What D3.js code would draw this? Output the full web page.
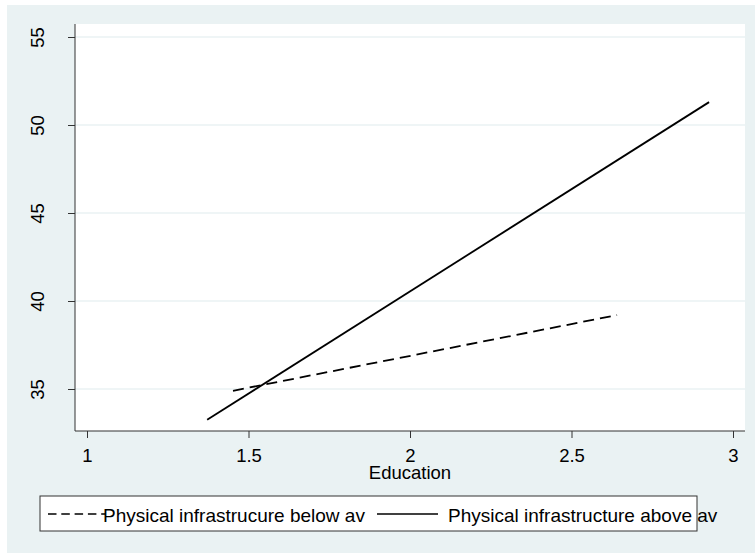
<!DOCTYPE html>
<html>
<head>
<meta charset="utf-8">
<script src="https://cdn.jsdelivr.net/npm/d3@7"></script>
<style>
  body { margin: 0; background: #fff; }
  svg { display: block; font-family: "Liberation Sans", Arial, sans-serif; }
</style>
</head>
<body>
<div id="chart"></div>
<script>
// data (fitted lines, two end points each)
var seriesNames = ["Physical infrastrucure below av", "Physical infrastructure above av"];
var belowEducation = [1.452, 2.641];
var belowValue = [34.9, 39.2];
var aboveEducation = [1.372, 2.926];
var aboveValue = [33.25, 51.3];
var xTicks = [1, 1.5, 2, 2.5, 3];
var yTicks = [35, 40, 45, 50, 55];

var width = 755, height = 553;
var bg = "#eaf2f3";
var fs = 18.5;

var svg = d3.select("#chart").append("svg")
    .attr("width", width)
    .attr("height", height);

// graph region
svg.append("rect")
    .attr("x", 7).attr("y", 5)
    .attr("width", width - 7).attr("height", height - 5)
    .attr("fill", bg);

// plot region
svg.append("rect")
    .attr("x", 75).attr("y", 24)
    .attr("width", 670).attr("height", 407)
    .attr("fill", "#fff");

var x = d3.scaleLinear().domain([1, 3]).range([87, 733]);
var y = d3.scaleLinear().domain([35, 55]).range([389, 37]);

// grid lines
svg.selectAll(".grid")
    .data(yTicks)
    .enter().append("line")
    .attr("class", "grid")
    .attr("x1", 75).attr("x2", 745)
    .attr("y1", function (d) { return y(d); })
    .attr("y2", function (d) { return y(d); })
    .attr("stroke", bg)
    .attr("stroke-width", 1.5);

// y axis
var yAxis = svg.append("g")
    .attr("transform", "translate(75,0)")
    .call(d3.axisLeft(y).tickValues(yTicks).tickSize(7).tickFormat(d3.format("d")));
yAxis.select(".domain").attr("d", "M0,24V431").attr("stroke", "#333");
yAxis.selectAll(".tick line").attr("stroke", "#333");
yAxis.selectAll(".tick text")
    .attr("x", null).attr("dy", null)
    .attr("transform", "translate(-31,0) rotate(-90)")
    .attr("text-anchor", "middle")
    .attr("font-size", fs)
    .attr("fill", "#000");

// x axis
var xAxis = svg.append("g")
    .attr("transform", "translate(0,431)")
    .call(d3.axisBottom(x).tickValues(xTicks).tickSize(7).tickFormat(d3.format("")));
xAxis.select(".domain").attr("d", "M75,0H745").attr("stroke", "#333");
xAxis.selectAll(".tick line").attr("stroke", "#333");
xAxis.selectAll(".tick text")
    .attr("y", 31).attr("dy", null)
    .attr("font-size", fs)
    .attr("fill", "#000");

svg.append("text")
    .attr("x", x(2)).attr("y", 479)
    .attr("text-anchor", "middle")
    .attr("font-size", fs)
    .text("Education");

var line = d3.line()
    .x(function (d) { return x(d[0]); })
    .y(function (d) { return y(d[1]); });

var belowPts = belowEducation.map(function (e, i) { return [e, belowValue[i]]; });
var abovePts = aboveEducation.map(function (e, i) { return [e, aboveValue[i]]; });

svg.append("path")
    .datum(belowPts)
    .attr("d", line)
    .attr("fill", "none")
    .attr("stroke", "#000")
    .attr("stroke-width", 1.8)
    .attr("stroke-dasharray", "11,6");

svg.append("path")
    .datum(abovePts)
    .attr("d", line)
    .attr("fill", "none")
    .attr("stroke", "#000")
    .attr("stroke-width", 1.8);

// legend
var legend = svg.append("g");
legend.append("rect")
    .attr("x", 40).attr("y", 496)
    .attr("width", 657).attr("height", 35)
    .attr("fill", "#fff")
    .attr("stroke", "#333");

var keys = [
    { x1: 48, x2: 106, tx: 103, dash: "8.5,4.8" },
    { x1: 377, x2: 438, tx: 448, dash: null }
];
keys.forEach(function (k, i) {
    legend.append("text")
        .attr("x", k.tx).attr("y", 522)
        .attr("font-size", 19)
        .text(seriesNames[i]);
    legend.append("line")
        .attr("x1", k.x1).attr("x2", k.x2)
        .attr("y1", 514).attr("y2", 514)
        .attr("stroke", "#000")
        .attr("stroke-width", 1.5)
        .attr("stroke-dasharray", k.dash);
});
</script>
</body>
</html>
